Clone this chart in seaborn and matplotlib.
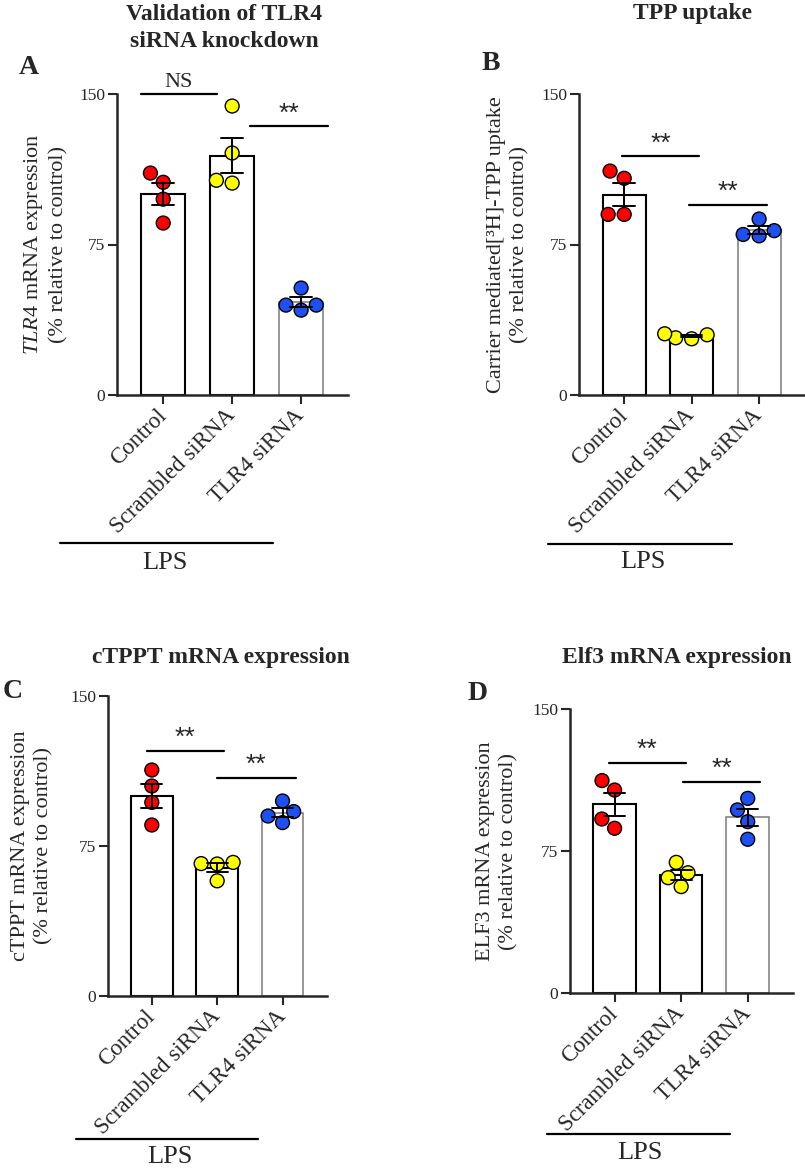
import pandas as pd
import matplotlib
matplotlib.use("Agg")
import matplotlib.pyplot as plt
import seaborn as sns
from matplotlib.lines import Line2D

# groups and colours (same in every panel)
groups = ["Control", "Scrambled siRNA", "TLR4 siRNA"]
point_colors = ["#FF0000", "#FFFF00", "#1E4FF0"]

# A: TLR4 mRNA expression (% relative to control)
a_control = [106.0, 110.6, 97.6, 85.7]
a_scrambled = [144.0, 120.6, 105.6, 107.0]
a_tlr4 = [53.3, 42.3, 44.8, 44.8]

# B: carrier mediated [3H]-TPP uptake (% relative to control)
b_control = [108.0, 111.6, 90.0, 90.0]
b_scrambled = [28.5, 30.5, 28.0, 30.0]
b_tlr4 = [79.3, 81.9, 87.7, 80.0]

# C: cTPPT mRNA expression
c_control = [105.0, 113.0, 96.8, 85.5]
c_scrambled = [66.0, 66.8, 66.2, 57.6]
c_tlr4 = [86.7, 92.2, 97.5, 90.0]

# D: ELF3 mRNA expression
d_control = [107.2, 112.2, 91.9, 87.0]
d_scrambled = [63.5, 69.0, 60.9, 56.2]
d_tlr4 = [96.7, 102.8, 90.5, 81.2]

y_ticks = [0, 75, 150]

sns.set_theme(style="ticks")
plt.rcParams["font.family"] = ["Liberation Serif", "DejaVu Serif"]
plt.rcParams["mathtext.fontset"] = "custom"
plt.rcParams["mathtext.rm"] = "Liberation Serif"
plt.rcParams["mathtext.it"] = "Liberation Serif:italic"

W, H = 805, 1174
fig = plt.figure(figsize=(W / 100, H / 100), dpi=100)


def px_rect(left, top, right, bottom):
    return [left / W, 1 - bottom / H, (right - left) / W, (bottom - top) / H]


def draw_panel(rect, control, scrambled, tlr4, ylabel, label_x, sigs):
    ax = fig.add_axes(px_rect(*rect))
    df = pd.DataFrame({
        "group": [groups[0]] * len(control) + [groups[1]] * len(scrambled) + [groups[2]] * len(tlr4),
        "value": control + scrambled + tlr4,
    })
    sns.barplot(data=df, x="group", y="value", order=groups, color="white",
                edgecolor="black", linewidth=1.5, width=0.64, errorbar="se",
                capsize=0.32, err_kws={"color": "black", "linewidth": 1.4}, ax=ax)
    for p in ax.patches:
        p.set_facecolor("white")
        p.set_zorder(1)
    ax.patches[2].set_edgecolor("#7a7a7a")
    ax.patches[2].set_linewidth(1.1)
    sns.swarmplot(data=df, x="group", y="value", order=groups, hue="group",
                  hue_order=groups, palette=point_colors, size=10,
                  edgecolor="black", linewidth=1, legend=False, zorder=3, ax=ax)
    for ln in ax.lines:
        ln.set_zorder(4)

    ax.set_ylim(0, 150)
    ax.set_yticks(y_ticks)
    ax.set_xlim(-0.67, 2.68)
    ax.set_xlabel("")
    ax.set_ylabel(ylabel, fontsize=16, linespacing=1.3)
    ax.yaxis.set_label_coords(label_x, 0.5)
    sns.despine(ax=ax)
    for s in ["left", "bottom"]:
        ax.spines[s].set_linewidth(1.8)
    ax.tick_params(axis="y", labelsize=12.5, length=6.5, width=1.5, pad=2)
    ax.tick_params(axis="x", labelsize=16.5, length=6.5, width=1.5, pad=6)
    ax.set_xticks(range(3))
    ax.set_xticklabels(groups, rotation=45, ha="right", va="center",
                       rotation_mode="anchor")

    # significance bars
    for x1, x2, y, label in sigs:
        ax.plot([x1, x2], [y, y], color="black", lw=1.6, clip_on=False)
        if label == "NS":
            ax.annotate(label, xy=((x1 + x2) / 2, y), xytext=(0, 1.5),
                        textcoords="offset points", ha="center", va="bottom",
                        fontsize=16, annotation_clip=False)
        else:
            ax.annotate(label, xy=((x1 + x2) / 2, y), xytext=(0, 0.5),
                        textcoords="offset points", ha="center", va="bottom",
                        fontsize=19, family="Liberation Sans",
                        annotation_clip=False)
    return ax


draw_panel((117, 94, 348, 395), a_control, a_scrambled, a_tlr4,
           "$\\mathit{TLR4}$ mRNA expression\n(% relative to control)", -0.21,
           [(-0.32, 0.78, 150, "NS"), (1.26, 2.39, 134, "**")])
draw_panel((579, 94, 805, 395), b_control, b_scrambled, b_tlr4,
           "Carrier mediated[\u00b3H]-TPP uptake\n(% relative to control)", -0.22,
           [(-0.03, 1.11, 119, "**"), (0.96, 2.12, 94.7, "**")])
draw_panel((108, 696, 327, 996), c_control, c_scrambled, c_tlr4,
           "cTPPT mRNA expression\n(% relative to control)", -0.25,
           [(-0.08, 1.10, 122.5, "**"), (1.0, 2.2, 109, "**")])
draw_panel((570, 709, 793, 993), d_control, d_scrambled, d_tlr4,
           "ELF3 mRNA expression\n(% relative to control)", -0.23,
           [(-0.09, 1.07, 121.5, "**"), (1.03, 2.18, 111.5, "**")])


def ftext(x, y, s, **kw):
    fig.text(x / W, 1 - y / H, s, ha="center", va="center", **kw)


# titles and panel letters
ftext(224, 28, "Validation of TLR4\nsiRNA knockdown", fontsize=17,
      fontweight="bold", linespacing=1.35)
ftext(692, 14, "TPP uptake", fontsize=17, fontweight="bold")
ftext(221, 658, "cTPPT mRNA expression", fontsize=17, fontweight="bold")
ftext(677, 658, "Elf3 mRNA expression", fontsize=17, fontweight="bold")
ftext(29, 67, "A", fontsize=20, fontweight="bold")
ftext(491, 63, "B", fontsize=20, fontweight="bold")
ftext(13, 692, "C", fontsize=20, fontweight="bold")
ftext(478, 693, "D", fontsize=20, fontweight="bold")

# LPS brackets under each panel
for x1, x2, y, xt, yt in [(60, 273, 543, 165, 563), (548, 732, 544, 643, 562),
                          (76, 258, 1139, 170, 1157), (547, 730, 1134, 640, 1153)]:
    fig.add_artist(Line2D([x1 / W, x2 / W], [1 - y / H, 1 - y / H],
                          transform=fig.transFigure, color="black", lw=1.6))
    ftext(xt, yt, "LPS", fontsize=19)

fig.savefig("out.png", dpi=100)
